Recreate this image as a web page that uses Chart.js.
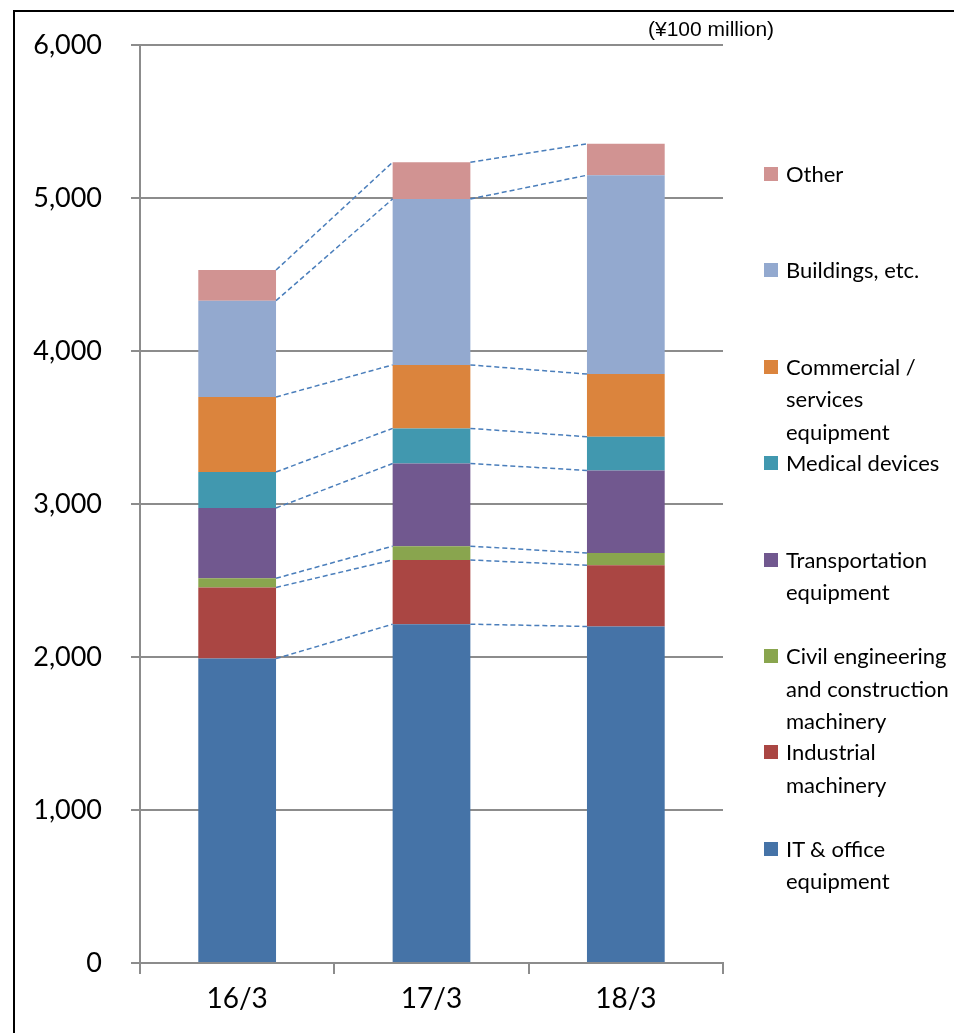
<!DOCTYPE html>
<html>
<head>
<meta charset="utf-8">
<script src="https://cdn.jsdelivr.net/npm/chart.js@4"></script>
<style>
  html, body { margin: 0; overflow: hidden; }
  body { background: #fff; width: 954px; height: 1033px; position: relative; font-family: Lato, sans-serif; }
  #frame { position: absolute; left: 13px; top: 10px; width: 2000px; height: 2000px; border: 2px solid #000; box-sizing: border-box; }
  #wrap { position: absolute; left: 0; top: 0; width: 954px; height: 1033px; }
  #unit { position: absolute; left: 648px; top: 17px; font: 21px "Liberation Sans", Arial, sans-serif; color: #000; white-space: nowrap; }
  #legend { position: absolute; left: 0; top: 0; }
  .item { position: absolute; left: 764px; width: 190px; font-size: 22px; line-height: 32.5px; color: #000; white-space: pre; }
  .item span.box { position: absolute; left: 0; top: 9px; width: 14px; height: 14px; }
  .item span.txt { display: block; margin-left: 22px; }
</style>
</head>
<body>
<div id="frame"></div>
<div id="wrap"><canvas id="chart" width="954" height="1033"></canvas></div>
<div id="unit">(¥100 million)</div>
<div id="legend"></div>
<script>
// fiscal years (March year-end)
let years = ["16/3", "17/3", "18/3"];

// segments, bottom to top
let names = [
    "IT & office\nequipment",
    "Industrial\nmachinery",
    "Civil engineering\nand construction\nmachinery",
    "Transportation\nequipment",
    "Medical devices",
    "Commercial /\nservices\nequipment",
    "Buildings, etc.",
    "Other"
];
let colors = ["#4573A7", "#AA4643", "#89A54E", "#71588F", "#4198AF", "#DB843D", "#93A9CF", "#D19392"];

// values in ¥100 million, per year
let itOffice = [1990, 2215, 2200];
let industrial = [465, 420, 400];
let civil = [60, 90, 80];
let transport = [460, 540, 540];
let medical = [235, 230, 220];
let commercial = [490, 415, 410];
let buildings = [630, 1085, 1300];
let other = [200, 240, 205];

let yTicks = [0, 1000, 2000, 3000, 4000, 5000, 6000];

let series = [itOffice, industrial, civil, transport, medical, commercial, buildings, other];

// dashed lines joining segment tops between neighbouring bars
const connectors = {
    id: "connectors",
    afterDatasetsDraw(chart) {
        const ctx = chart.ctx;
        const y = chart.scales.y;
        ctx.save();
        ctx.strokeStyle = "#4A7EBB";
        ctx.lineWidth = 1.5;
        ctx.setLineDash([5, 3]);
        for (let i = 0; i < years.length - 1; i++) {
            let sumA = 0, sumB = 0;
            for (let d = 0; d < series.length; d++) {
                sumA += series[d][i];
                sumB += series[d][i + 1];
                const a = chart.getDatasetMeta(d).data[i];
                const b = chart.getDatasetMeta(d).data[i + 1];
                ctx.beginPath();
                ctx.moveTo(a.x + a.width / 2, y.getPixelForValue(sumA));
                ctx.lineTo(b.x - b.width / 2, y.getPixelForValue(sumB));
                ctx.stroke();
            }
        }
        ctx.restore();
    }
};

function buildLegend() {
    const box = document.getElementById("legend");
    for (let k = series.length - 1; k >= 0; k--) {
        const pos = series.length - 1 - k;
        const div = document.createElement("div");
        div.className = "item";
        div.style.top = (158 + pos * 96.4) + "px";
        div.innerHTML = '<span class="box" style="background:' + colors[k] + '"></span><span class="txt"></span>';
        div.querySelector(".txt").textContent = names[k];
        box.appendChild(div);
    }
}

function draw() {
    new Chart(document.getElementById("chart"), {
        type: "bar",
        data: {
            labels: years,
            datasets: series.map((s, k) => ({
                label: names[k].replace(/\n/g, " "),
                data: s,
                backgroundColor: colors[k],
                categoryPercentage: 1,
                barPercentage: 0.4
            }))
        },
        options: {
            responsive: false,
            animation: false,
            events: [],
            layout: { padding: { left: 0, top: 44, right: 231, bottom: 0 } },
            plugins: { legend: { display: false }, tooltip: { enabled: false } },
            scales: {
                x: {
                    stacked: true,
                    grid: { offset: true, drawOnChartArea: false, drawTicks: true, tickLength: 11, color: "#8c8c8c", lineWidth: 2 },
                    border: { display: true, color: "#8c8c8c", width: 2 },
                    ticks: { color: "#000", font: { family: "Lato", size: 28 }, padding: 8 },
                    afterFit(scale) { scale.height = 70; }
                },
                y: {
                    stacked: true,
                    min: 0,
                    max: 6000,
                    afterBuildTicks(scale) { scale.ticks = yTicks.map(v => ({ value: v })); },
                    grid: { color: "#8c8c8c", lineWidth: 2, tickLength: 9 },
                    border: { display: true, color: "#8c8c8c", width: 2 },
                    ticks: {
                        color: "#000",
                        font: { family: "Lato", size: 27 },
                        padding: 29,
                        callback: v => v.toLocaleString("en-US")
                    },
                    afterFit(scale) { scale.width = 140; }
                }
            }
        },
        plugins: [connectors]
    });
}

buildLegend();
document.fonts.load("27px Lato").then(draw, draw);
</script>
</body>
</html>
